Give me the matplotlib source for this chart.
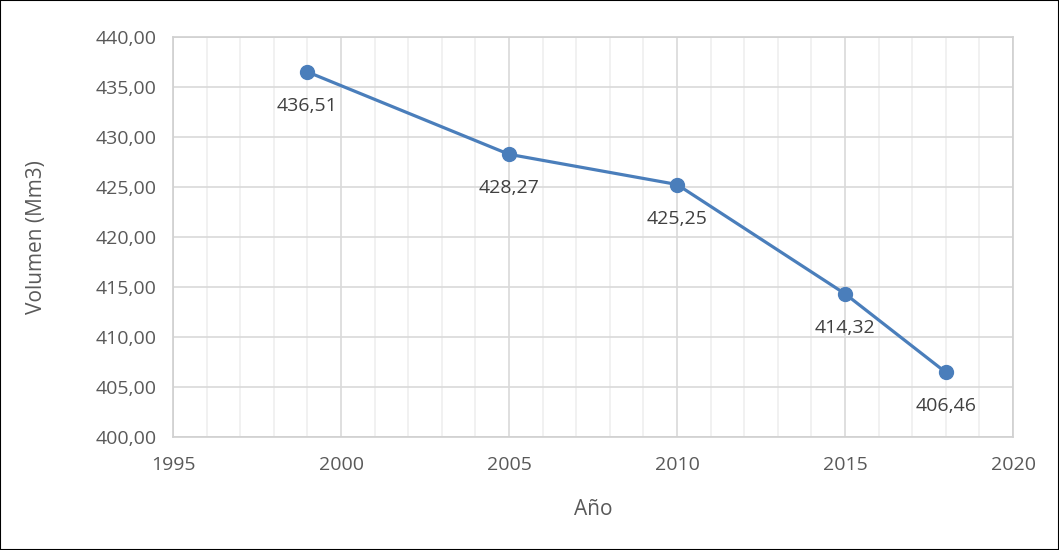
import matplotlib.pyplot as plt
from matplotlib.ticker import MultipleLocator, FuncFormatter

plt.rcParams['font.family'] = ['Open Sans', 'DejaVu Sans']

anios = [1999, 2005, 2010, 2015, 2018]
volumen = [436.51, 428.27, 425.25, 414.32, 406.46]

fig = plt.figure(figsize=(10.59, 5.5), dpi=100)
ax = fig.add_axes([0.1634, 0.2055, 0.7932, 0.7272])

ax.plot(anios, volumen, color='#4a7ebb', lw=2.3, marker='o', markersize=10, zorder=3)

for x, y in zip(anios, volumen):
    ax.annotate(f'{y:.2f}'.replace('.', ','), (x, y), xytext=(0, -18), textcoords='offset points',
                ha='center', va='top', fontsize=14, color='#404040')

ax.set_xlim(1995, 2020)
ax.set_ylim(400, 440)
ax.xaxis.set_major_locator(MultipleLocator(5))
ax.xaxis.set_minor_locator(MultipleLocator(1))
ax.yaxis.set_major_locator(MultipleLocator(5))
ax.yaxis.set_major_formatter(FuncFormatter(lambda v, p: f'{v:.2f}'.replace('.', ',')))

ax.grid(which='major', color='#d9d9d9', lw=1.2)
ax.grid(which='minor', axis='x', color='#efefef', lw=1.2)
ax.set_axisbelow(True)
for s in ax.spines.values():
    s.set_color('#d0d0d0')
    s.set_linewidth(1.2)
ax.tick_params(which='both', length=0, labelsize=14, labelcolor='#595959')
ax.tick_params(axis='x', pad=14)
ax.tick_params(axis='y', pad=12)

ax.set_xlabel('Año', fontsize=15, color='#595959', labelpad=18)
ax.set_ylabel('Volumen (Mm3)', fontsize=15, color='#595959')
ax.yaxis.set_label_coords(-0.15, 0.5)

fig.patches.append(plt.Rectangle((0, 0), 1, 1, transform=fig.transFigure, fill=False,
                                 edgecolor='black', lw=1.5))

fig.savefig('out.png', dpi=100)
